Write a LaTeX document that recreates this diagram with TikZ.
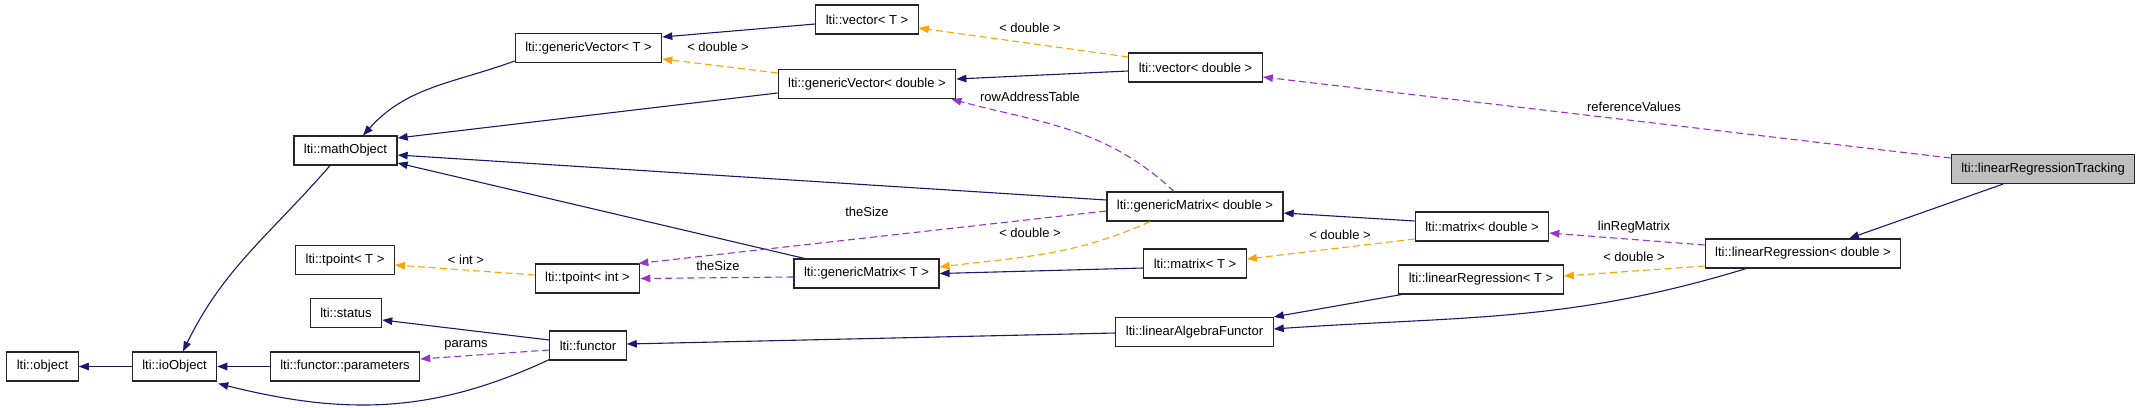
\documentclass[tikz,border=0pt]{standalone}
\usepackage{fontspec}
\setmainfont{Liberation Sans}
\usetikzlibrary{arrows.meta}

\definecolor{edgeblue}{HTML}{191970}
\definecolor{edgeorange}{HTML}{FFA500}
\definecolor{edgepurple}{HTML}{9A32CD}

\begin{document}
\begin{tikzpicture}[x=1pt, y=-1pt, >={Triangle[length=10pt,width=7.5pt]},
    cls/.style={draw=black!85, line width=1.2pt, fill=white, minimum height=29pt,
        inner xsep=10pt, inner ysep=0pt, font=\fontsize{13}{15}\selectfont},
    inh/.style={->, line width=1.1pt, draw=edgeblue},
    tmpl/.style={->, line width=1.1pt, draw=edgeorange, dash pattern=on 7pt off 4pt},
    usage/.style={->, line width=1.1pt, draw=edgepurple, dash pattern=on 7pt off 4pt},
    lbl/.style={inner sep=1pt, font=\fontsize{13}{15}\selectfont}]
    \useasboundingbox (0,0) rectangle (2144,407);

    % classes
    \node[cls] (object) at (42.5,366.5) {lti::object};
    \node[cls] (ioObject) at (174.5,366.5) {lti::ioObject};
    \node[cls] (params) at (345,366.5) {lti::functor::parameters};
    \node[cls] (status) at (346,313) {lti::status};
    \node[cls] (tpointT) at (345,260) {lti::tpoint< T >};
    \node[cls] (mathObject) at (345.5,150.5) {lti::mathObject};
    \node[cls] (gvT) at (588.5,48) {lti::genericVector< T >};
    \node[cls] (tpointInt) at (587.5,278.5) {lti::tpoint< int >};
    \node[cls] (functor) at (588,345.5) {lti::functor};
    \node[cls] (vectorT) at (867,19.5) {lti::vector< T >};
    \node[cls] (gvD) at (867,84) {lti::genericVector< double >};
    \node[cls] (gmT) at (866.5,273.5) {lti::genericMatrix< T >};
    \node[cls] (vectorD) at (1195.5,67.5) {lti::vector< double >};
    \node[cls] (gmD) at (1195,206.5) {lti::genericMatrix< double >};
    \node[cls] (matrixT) at (1195,263.5) {lti::matrix< T >};
    \node[cls] (laf) at (1194.5,332) {lti::linearAlgebraFunctor};
    \node[cls] (matrixD) at (1482,226.5) {lti::matrix< double >};
    \node[cls] (lrT) at (1481,279.5) {lti::linearRegression< T >};
    \node[cls] (lrD) at (1803,253.5) {lti::linearRegression< double >};
    \node[cls, fill=black!25] (lrtrack) at (2043,169) {lti::linearRegressionTracking};

    % inheritance
    \draw[inh] (ioObject.west) -- (object.east);
    \draw[inh] (params.west) -- (ioObject.east);
    \draw[inh] ([xshift=-15.5pt]mathObject.south) to[out=229,in=64] ([xshift=8.5pt]ioObject.north);
    \draw[inh] ([yshift=1pt]functor.south west) to[out=205,in=-14] ([xshift=1pt,yshift=-2pt]ioObject.south east);
    \draw[inh] ([yshift=5.5pt]functor.west) -- ([yshift=-7pt]status.east);
    \draw[inh] ([yshift=-1pt]laf.west) -- ([yshift=1.5pt]functor.east);
    \draw[inh] ([xshift=3pt]lrT.south west) -- (laf.north east);
    \draw[inh] ([xshift=-57pt]lrD.south) to[out=197,in=4] ([yshift=3pt]laf.east);
    \draw[inh] ([xshift=-40pt]lrtrack.south) -- ([xshift=46pt]lrD.north);
    \draw[inh] ([yshift=5.5pt]matrixD.west) -- ([yshift=-6.5pt]gmD.east);
    \draw[inh] ([yshift=-4.5pt]matrixT.west) -- (gmT.east);
    \draw[inh] ([yshift=-3.5pt]vectorD.west) -- ([yshift=5pt]gvD.east);
    \draw[inh] ([yshift=-4.5pt]vectorT.west) -- ([yshift=11pt]gvT.east);
    \draw[inh] ([yshift=-13pt]gvT.west) to[out=200,in=48] ([xshift=17.5pt]mathObject.north);
    \draw[inh] ([yshift=-9pt]gvD.west) -- ([yshift=12.5pt]mathObject.east);
    \draw[inh] ([yshift=6.5pt]gmD.west) -- ([yshift=-4.5pt]mathObject.east);
    \draw[inh] ([xshift=11pt]gmT.north west) -- ([yshift=-12.5pt]mathObject.east);

    % template instances
    \draw[tmpl] ([yshift=11pt]gvD.west) -- ([yshift=-11pt]gvT.east);
    \draw[tmpl] ([yshift=10.5pt]vectorD.west) -- ([yshift=-8.5pt]vectorT.east);
    \draw[tmpl] ([xshift=-45pt]gmD.south) to[out=204,in=7] ([yshift=6.5pt]gmT.east);
    \draw[tmpl] ([yshift=-12.5pt]matrixD.west) -- ([yshift=4.5pt]matrixT.east);
    \draw[tmpl] ([yshift=3.5pt]tpointInt.west) -- ([yshift=-5pt]tpointT.east);
    \draw[tmpl] ([yshift=-12.5pt]lrD.west) -- ([yshift=3.5pt]lrT.east);

    % members
    \draw[usage] ([yshift=11pt]lrtrack.west) -- ([yshift=-9.5pt]vectorD.east);
    \draw[usage] ([xshift=-21pt]gmD.north) to[out=137,in=-15] ([xshift=-5pt]gvD.south east);
    \draw[usage] ([yshift=-4.5pt]gmD.west) -- ([xshift=-2pt]tpointInt.north east);
    \draw[usage] ([yshift=-3.5pt]gmT.west) -- (tpointInt.east);
    \draw[usage] ([yshift=8.5pt]lrD.west) -- ([yshift=-6.5pt]matrixD.east);
    \draw[usage] ([yshift=-4.5pt]functor.west) -- ([yshift=7.5pt]params.east);

    % edge labels
    \node[lbl] (lblVecT) at (1030,28) {< double >};
    \node[lbl] (lblGvT) at (718,47) {< double >};
    \node[lbl] (lblRow) at (1030,97) {rowAddressTable};
    \node[lbl] (lblRef) at (1634,107) {referenceValues};
    \node[lbl] (lblSizeD) at (867,212) {theSize};
    \node[lbl] (lblSizeT) at (718,266) {theSize};
    \node[lbl] (lblGmT) at (1030,233) {< double >};
    \node[lbl] (lblMatT) at (1340,235) {< double >};
    \node[lbl] (lblLinReg) at (1634,227) {linRegMatrix};
    \node[lbl] (lblLrT) at (1634,257) {< double >};
    \node[lbl] (lblInt) at (466,260) {< int >};
    \node[lbl] (lblParams) at (466,345) {params};
\end{tikzpicture}
\end{document}
